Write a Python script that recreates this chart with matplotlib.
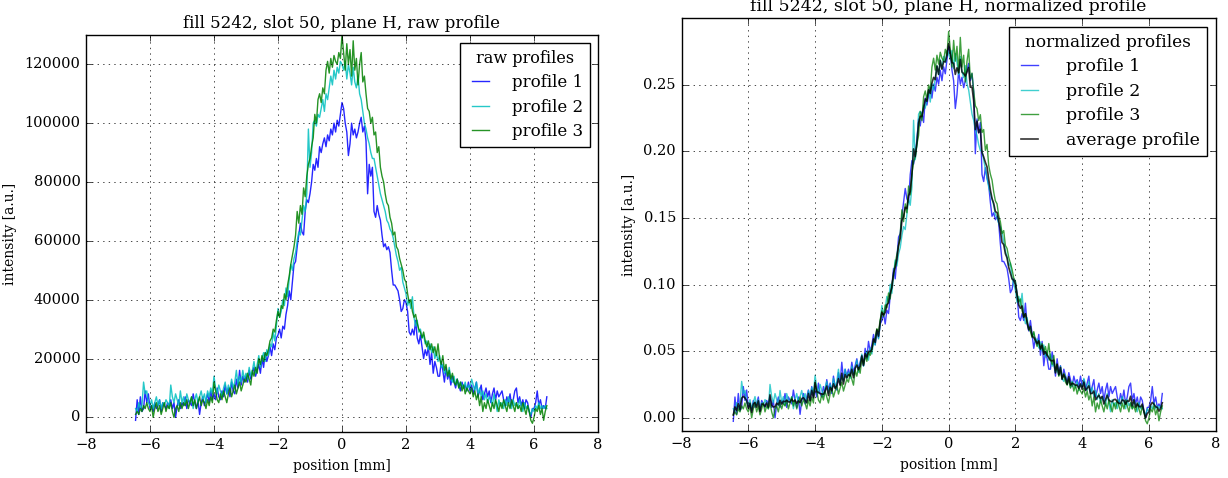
import numpy as np
import matplotlib
matplotlib.use('Agg')
import matplotlib.pyplot as plt

plt.style.use('classic')
plt.rcParams['font.family'] = 'serif'
plt.rcParams['font.serif'] = ['DejaVu Serif']

# positions of the samples [mm]
x = np.round(np.arange(-6.45, 6.4001, 0.05), 2)

# raw profiles, in units of 1000 counts
p1 = [-1, 6, 1, 7, 2, 3, 9, 5, 8,
      3, 4, 2, 5, 3, 4, 6, 2, 5, 4, 3, 5, 4, 6, 3, 5, 0, 4, 6, 3,
      5, 4, 7, 3, 6, 5, 4, 8, 5, 3, 6, 1, 5, 7, 4, 6, 8, 5, 9, 6,
      8, 6, 10, 7, 6, 9, 7, 11, 8, 10, 7, 12, 9, 8, 13, 10, 16, 11, 14, 12,
      14, 12, 16, 13, 15, 17, 14, 16, 18, 15, 20, 17, 22, 19, 21, 24, 21, 25, 23, 27,
      28, 30, 27, 31, 30, 35, 38, 43, 40, 46, 52, 53, 58, 62, 66, 63, 62, 70, 74, 73,
      76, 80, 86, 84, 88, 85, 92, 90, 93, 95, 92, 96, 94, 98, 96, 100, 97, 101, 99, 103,
      107, 105, 100, 97, 89, 93, 100, 96, 98, 95, 97, 100, 102, 97, 99, 94, 76, 86, 82, 85,
      70, 68, 72, 69, 67, 62, 58, 59, 57, 58, 56, 50, 45, 45, 44, 43, 40, 36, 37, 40,
      39, 36, 29, 28, 30, 28, 33, 27, 25, 28, 24, 20, 23, 21, 24, 18, 22, 15, 19, 17,
      14, 14, 19, 16, 12, 17, 13, 15, 11, 14, 12, 10, 13, 11, 9, 12, 10, 11, 9, 12,
      9, 11, 8, 10, 12, 7, 9, 11, 6, 8, 10, 7, 9, 5, 8, 10, 6, 9, 7, 8,
      9, 6, 4, 7, 5, 8, 4, 6, 9, 10, 5, 7, 4, 6, 3, 6, 5, 2, 0, 3,
      3, 5, 9, 4, 6, 3, 4, 3, 7]

p2 = [3, 2, 5, 3, 4, 12, 8, 9, 5,
      4, 6, 3, 5, 7, 4, 6, 3, 5, 4, 6, 5, 3, 11, 7, 5, 8, 6, 4, 9,
      5, 7, 4, 8, 6, 5, 7, 3, 6, 8, 5, 7, 9, 6, 8, 5, 9, 7, 10, 8,
      14, 10, 8, 11, 9, 7, 10, 12, 8, 11, 9, 13, 10, 12, 16, 11, 14, 12, 16, 13,
      15, 13, 17, 14, 16, 19, 15, 18, 21, 17, 20, 22, 19, 23, 21, 25, 24, 29, 26, 31,
      37, 34, 36, 40, 38, 44, 41, 47, 52, 50, 54, 56, 60, 63, 62, 67, 72, 70, 76, 98,
      85, 90, 100, 101, 99, 103, 102, 105, 108, 104, 110, 108, 112, 116, 113, 118, 115, 119, 117, 121,
      120, 118, 121, 115, 120, 117, 113, 119, 114, 112, 116, 110, 108, 104, 100, 98, 95, 93, 90, 88,
      88, 85, 82, 79, 76, 74, 72, 70, 67, 66, 64, 63, 61, 58, 55, 53, 50, 51, 46, 44,
      42, 38, 40, 37, 41, 34, 31, 33, 29, 30, 27, 28, 25, 26, 23, 25, 22, 24, 20, 22,
      19, 21, 17, 18, 15, 16, 14, 17, 13, 12, 14, 11, 13, 10, 12, 11, 10, 12, 9, 11,
      10, 13, 11, 9, 12, 8, 10, 7, 9, 6, 8, 5, 7, 6, 4, 8, 5, 2, 6, 4,
      5, 3, 6, 4, 7, 5, 3, 6, 4, 5, 3, 6, 4, 2, 5, 3, 4, 2, 1, 3,
      2, 4, 3, 5, 3, 4, 3, 4, 3]

p3 = [1, 2, 1, 3, 2, 4, 3, 5, 3,
      2, 4, 0, 3, 5, 2, 4, 1, 3, 5, 2, 4, 3, 5, 2, 0, 3, 4, 2, 5,
      3, 5, 4, 6, 3, 5, 7, 4, 6, 3, 5, 7, 4, 6, 5, 3, 6, 4, 7, 5,
      12, 9, 6, 5, 8, 6, 9, 7, 5, 8, 10, 7, 9, 11, 8, 10, 12, 9, 11, 13,
      12, 15, 13, 11, 16, 14, 17, 15, 20, 18, 21, 19, 22, 21, 23, 26, 27, 30, 29, 33,
      36, 34, 38, 37, 42, 40, 45, 48, 52, 55, 58, 62, 70, 66, 72, 69, 78, 75, 82, 86,
      88, 92, 95, 103, 100, 108, 110, 107, 112, 110, 118, 121, 117, 122, 119, 123, 121, 120, 124, 122,
      130, 124, 118, 127, 120, 125, 116, 128, 118, 122, 113, 120, 124, 114, 116, 110, 105, 104, 100, 102,
      96, 97, 90, 92, 85, 82, 80, 76, 73, 72, 68, 66, 62, 63, 58, 57, 54, 52, 50, 47,
      46, 42, 39, 40, 36, 34, 35, 32, 30, 29, 27, 29, 26, 24, 26, 23, 25, 22, 24, 21,
      25, 20, 18, 21, 16, 18, 14, 16, 13, 15, 12, 11, 13, 10, 12, 9, 11, 8, 10, 9,
      8, 10, 7, 9, 6, 8, 4, 7, 2, 5, 3, 6, 4, 2, 5, 3, 6, 4, 2, 5,
      3, 6, 4, 2, 5, 3, 6, 4, 2, 5, 3, 4, 2, 5, 3, 1, 4, 2, -1, -2,
      0, 3, 2, 4, 1, 3, -1, 2, 4]

labels = ['profile 1', 'profile 2', 'profile 3']
colours = ['b', 'c', 'g']

raw = [np.array(p) * 1000.0 for p in (p1, p2, p3)]
norm = [r / np.trapezoid(r, x) for r in raw]
avg = np.mean(norm, axis=0)

fig = plt.figure(figsize=(12.28, 4.78), dpi=100, facecolor='w')
ax1 = fig.add_axes([0.070, 0.096, 0.417, 0.831])
ax2 = fig.add_axes([0.555, 0.098, 0.435, 0.864])

for r, c, l in zip(raw, colours, labels):
    ax1.plot(x, r, color=c, lw=1.0, alpha=0.85, label=l)
ax1.set_xlim(-8, 8)
ax1.set_ylim(-5000, 130000)
ax1.set_yticks(np.arange(0, 120001, 20000))
ax1.set_title('fill 5242, slot 50, plane H, raw profile', fontsize=12)
ax1.set_xlabel('position [mm]', fontsize=10)
ax1.set_ylabel('intensity [a.u.]', fontsize=10)
ax1.grid(True)
ax1.tick_params(labelsize=10.5)
leg = ax1.legend(loc='upper right', title='raw profiles', fontsize=12,
                 handlelength=1.6, handletextpad=1.1, labelspacing=0.44)
leg.get_title().set_fontsize(11.6)

for n, c, l in zip(norm, colours, labels):
    ax2.plot(x, n, color=c, lw=1.0, alpha=0.75, label=l)
ax2.plot(x, avg, color='k', lw=1.2, alpha=0.8, label='average profile')
ax2.set_xlim(-8, 8)
ax2.set_ylim(-0.01, 0.30)
ax2.set_yticks(np.arange(0, 0.2501, 0.05))
ax2.set_title('fill 5242, slot 50, plane H, normalized profile', fontsize=12.5)
ax2.set_xlabel('position [mm]', fontsize=10)
ax2.set_ylabel('intensity [a.u.]', fontsize=10)
ax2.grid(True)
ax2.tick_params(labelsize=10.5)
leg2 = ax2.legend(loc='upper right', title='normalized profiles', fontsize=12.5,
                  handlelength=1.6, handletextpad=1.3, labelspacing=0.43)
leg2.get_title().set_fontsize(12.2)

fig.savefig('out.png', dpi=100, facecolor='w')
